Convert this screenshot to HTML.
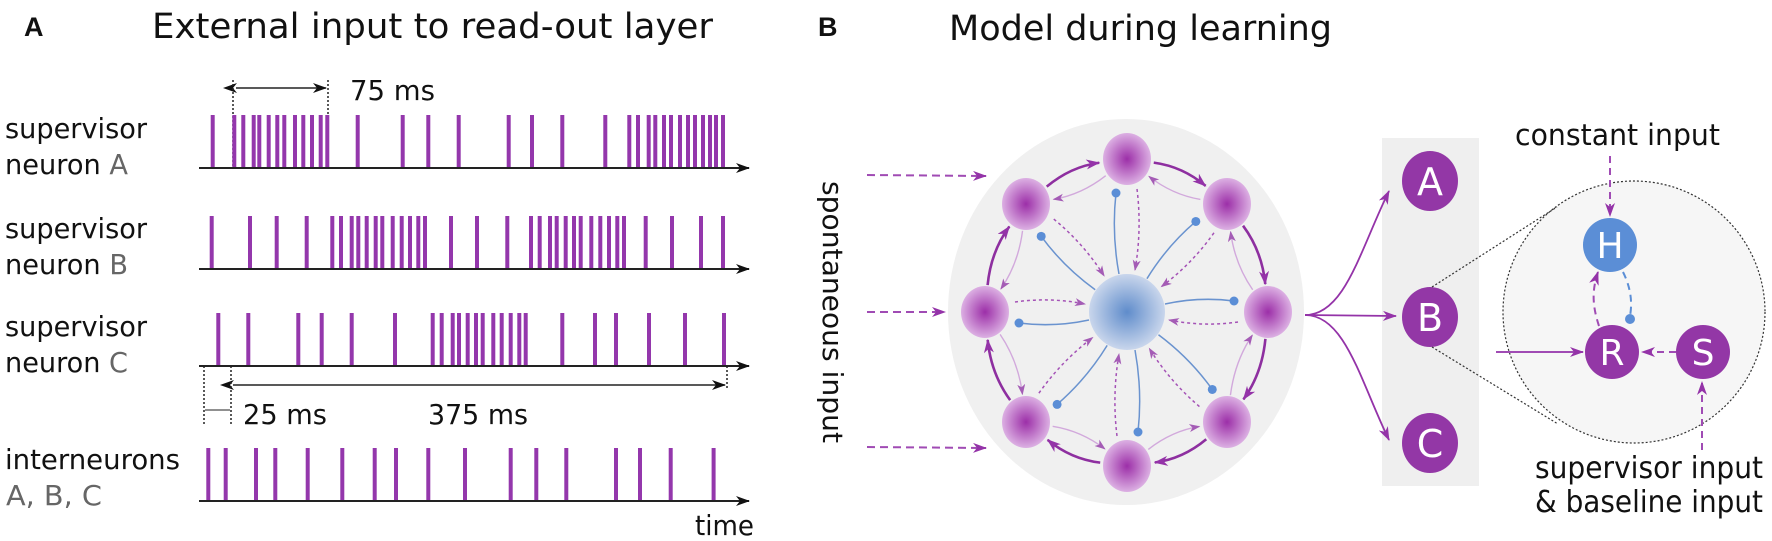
<!DOCTYPE html>
<html><head><meta charset="utf-8"><style>
html,body{margin:0;padding:0;background:#fff;}
svg{display:block;}
text{font-family:"DejaVu Sans","Liberation Sans",sans-serif;}
</style></head><body>
<svg id="s" width="1772" height="541" viewBox="0 0 1772 541" xmlns="http://www.w3.org/2000/svg" fill="#111">
<defs>
<marker id="ak" markerWidth="14" markerHeight="10" refX="13" refY="5" orient="auto" markerUnits="userSpaceOnUse"><path d="M0,0 L14,5 L0,10 L4,5 z" fill="#111"/></marker>
<marker id="aks" markerWidth="14" markerHeight="10" refX="1" refY="5" orient="auto-start-reverse" markerUnits="userSpaceOnUse"><path d="M0,0 L14,5 L0,10 L4,5 z" fill="#111"/></marker>
<marker id="ap" markerWidth="14" markerHeight="10" refX="13" refY="5" orient="auto" markerUnits="userSpaceOnUse"><path d="M0,0 L14,5 L0,10 L4,5 z" fill="#9433a8"/></marker>
<marker id="apl" markerWidth="11" markerHeight="8" refX="10" refY="4" orient="auto" markerUnits="userSpaceOnUse"><path d="M0,0 L11,4 L0,8 L3,4 z" fill="#a45cb5"/></marker>
<radialGradient id="gp"><stop offset="0" stop-color="#9c2fa8"/><stop offset="1" stop-color="#dcb0e3"/></radialGradient>
<radialGradient id="gb"><stop offset="0" stop-color="#5f8ccb"/><stop offset="1" stop-color="#c9d6ec"/></radialGradient>
</defs>

<!-- Panel A -->
<text x="24" y="36" font-size="27" font-weight="bold" style="font-family:'Liberation Sans',sans-serif">A</text>
<text x="152" y="38" font-size="35" textLength="561" lengthAdjust="spacingAndGlyphs">External input to read-out layer</text>

<g font-size="28">
<text x="5" y="138" textLength="142" lengthAdjust="spacingAndGlyphs">supervisor</text><text x="5" y="174" textLength="123" lengthAdjust="spacingAndGlyphs">neuron <tspan style="fill:#666">A</tspan></text>
<text x="5" y="238" textLength="142" lengthAdjust="spacingAndGlyphs">supervisor</text><text x="5" y="274" textLength="123" lengthAdjust="spacingAndGlyphs">neuron <tspan style="fill:#666">B</tspan></text>
<text x="5" y="336" textLength="142" lengthAdjust="spacingAndGlyphs">supervisor</text><text x="5" y="372" textLength="123" lengthAdjust="spacingAndGlyphs">neuron <tspan style="fill:#666">C</tspan></text>
<text x="5" y="469" textLength="175" lengthAdjust="spacingAndGlyphs">interneurons</text><text x="6" y="505" style="fill:#666" textLength="96" lengthAdjust="spacingAndGlyphs">A, B, C</text>
<text x="695" y="535" textLength="59" lengthAdjust="spacingAndGlyphs">time</text>
<text x="350" y="100" textLength="85" lengthAdjust="spacingAndGlyphs">75 ms</text>
<text x="243" y="424" textLength="84" lengthAdjust="spacingAndGlyphs">25 ms</text>
<text x="428" y="424" textLength="100" lengthAdjust="spacingAndGlyphs">375 ms</text>
</g>

<g stroke="#222" stroke-width="2" fill="none">
<line x1="199" y1="168" x2="749" y2="168" marker-end="url(#ak)"/>
<line x1="199" y1="269" x2="749" y2="269" marker-end="url(#ak)"/>
<line x1="199" y1="366" x2="749" y2="366" marker-end="url(#ak)"/>
<line x1="199" y1="501" x2="749" y2="501" marker-end="url(#ak)"/>
<line x1="236" y1="88" x2="326" y2="88" stroke-width="1.5" marker-start="url(#aks)" marker-end="url(#ak)"/>
<line x1="233" y1="385" x2="725" y2="385" stroke-width="1.5" marker-start="url(#aks)" marker-end="url(#ak)"/>
<line x1="205" y1="410" x2="230" y2="410" stroke-width="1"/>
</g>
<g stroke="#222" stroke-width="1.5" stroke-dasharray="2,2">
<line x1="233" y1="80" x2="233" y2="168"/><line x1="328" y1="80" x2="328" y2="168"/>
<line x1="204" y1="366" x2="204" y2="424"/><line x1="231" y1="366" x2="231" y2="424"/>
<line x1="727" y1="366" x2="727" y2="390"/>
</g>
<g id="spikes" stroke="#9437ac" stroke-width="4"></g>

<!-- Panel B -->
<text x="818" y="36" font-size="27" font-weight="bold" style="font-family:'Liberation Sans',sans-serif">B</text>
<text x="949" y="40" font-size="35" textLength="383" lengthAdjust="spacingAndGlyphs">Model during learning</text>
<text x="0" y="0" font-size="28" transform="translate(823,181) rotate(90)" textLength="262" lengthAdjust="spacingAndGlyphs">spontaneous input</text>

<g stroke="#a04bb4" stroke-width="2" stroke-dasharray="8,5" fill="none">
<line x1="867" y1="175" x2="986" y2="176" marker-end="url(#ap)"/>
<line x1="867" y1="312" x2="945" y2="312" marker-end="url(#ap)"/>
<line x1="867" y1="447" x2="986" y2="448" marker-end="url(#ap)"/>
</g>
<ellipse cx="1126" cy="312" rx="178" ry="193" fill="#f0f0f0"/>
<g id="net"></g>

<rect x="1382" y="138" width="97" height="348" fill="#efefef"/>
<g stroke="#9433a8" stroke-width="1.8" fill="none">
<path d="M1305,315 C1345,315 1360,250 1389,191" marker-end="url(#ap)"/>
<line x1="1305" y1="315" x2="1396" y2="316" marker-end="url(#ap)"/>
<path d="M1305,315 C1345,315 1360,380 1389,440" marker-end="url(#ap)"/>
</g>
<g fill="#9337a6">
<ellipse cx="1430" cy="181" rx="28" ry="30"/><ellipse cx="1430" cy="317" rx="28" ry="30"/><ellipse cx="1430" cy="443" rx="28" ry="30"/>
</g>
<g font-size="38" text-anchor="middle" style="fill:#fff">
<text x="1430" y="195" style="fill:#fff">A</text><text x="1430" y="331" style="fill:#fff">B</text><text x="1430" y="457" style="fill:#fff">C</text>
</g>

<circle cx="1634" cy="312" r="131" fill="#f6f6f6" stroke="#333" stroke-width="1.2" stroke-dasharray="2,2"/>
<g stroke="#333" stroke-width="1.2" stroke-dasharray="2,2">
<line x1="1432" y1="287" x2="1557" y2="207"/><line x1="1432" y1="347" x2="1558" y2="424"/>
</g>
<text x="1515" y="145" font-size="29" textLength="205" lengthAdjust="spacingAndGlyphs">constant input</text>
<text x="1535" y="478" font-size="30" textLength="228" lengthAdjust="spacingAndGlyphs">supervisor input</text>
<text x="1535" y="512" font-size="30" textLength="228" lengthAdjust="spacingAndGlyphs">&amp; baseline input</text>
<g stroke="#a04bb4" stroke-width="2" fill="none">
<line x1="1610" y1="156" x2="1610" y2="216" stroke-dasharray="7,5" marker-end="url(#ap)"/>
<line x1="1496" y1="352" x2="1583" y2="352" marker-end="url(#ap)"/>
<line x1="1676" y1="352" x2="1642" y2="352" stroke-dasharray="7,5" marker-end="url(#ap)"/>
<line x1="1702" y1="450" x2="1702" y2="382" stroke-dasharray="7,5" marker-end="url(#ap)"/>
<path d="M1599,326 C1592,305 1592,290 1598,272" stroke-dasharray="7,5" marker-end="url(#ap)"/>
<path d="M1623,272 C1632,290 1632,305 1630,316" stroke="#5b8ed6" stroke-dasharray="7,5"/>
</g>
<circle cx="1630" cy="319" r="5" fill="#5b8ed6"/>
<circle cx="1610" cy="245" r="27" fill="#5b8ed6"/>
<circle cx="1612" cy="352" r="27" fill="#9337a6"/>
<circle cx="1703" cy="352" r="27" fill="#9337a6"/>
<g font-size="36" text-anchor="middle">
<text x="1610" y="258" style="fill:#fff">H</text><text x="1612" y="365" style="fill:#fff">R</text><text x="1703" y="365" style="fill:#fff">S</text>
</g>
</svg>
<script>
(function(){
var NS="http://www.w3.org/2000/svg";
function el(p,t,a){var e=document.createElementNS(NS,t);for(var k in a)e.setAttribute(k,a[k]);p.appendChild(e);return e;}
var sp=document.getElementById('spikes');
var rows=[[168,[212.7,234.3,243.3,253.7,259.3,268.7,277.3,284.3,295,303.3,312,320.7,327.3,357.7,402.7,428.3,458.7,508.7,532,562.3,605.3,629.3,638,648.7,655.3,664,671,680,688,695,703,710,716,723]],
[269,[211.7,250,276.7,306.7,332.3,341,351.7,358.3,366.7,375.7,382.3,392.7,401.7,410,418.3,425,451,477,507.3,531,539.7,550,556.7,565.7,574,580.7,591.3,600.3,609,617.3,624,645.7,672,701,723]],
[366,[218.3,248.3,298.3,321.7,351.7,395,432.7,441.7,452.7,459,467.7,476,482.7,493.3,501.7,510.7,519.3,525.7,562.3,595,616,649,685,724]],
[501,[208.3,225.7,256,275.3,307.7,342.3,374.7,396,428.3,465,510.7,536.3,566.3,616,640,670.7,713.6]]];
rows.forEach(function(r){r[1].forEach(function(x){el(sp,'line',{x1:x,x2:x,y1:r[0]-53,y2:r[0]-1});});});
var g=document.getElementById('net');
var C=[1127,312];
var N=[[1127,159],[1227,204],[1268,312],[1227,422],[1127,466],[1026,422],[985,312],[1026,204]];
function nrm(x,y){var l=Math.hypot(x,y);return [x/l,y/l];}
for(var i=0;i<8;i++){
 var a=N[i],b=N[(i+1)%8];
 var m=[(a[0]+b[0])/2,(a[1]+b[1])/2];
 var o=nrm(m[0]-C[0],m[1]-C[1]);
 var c1=[m[0]+o[0]*16,m[1]+o[1]*16];
 var d1=nrm(c1[0]-a[0],c1[1]-a[1]),d2=nrm(c1[0]-b[0],c1[1]-b[1]);
 el(g,'path',{d:'M'+(a[0]+d1[0]*27)+','+(a[1]+d1[1]*27)+' Q'+c1[0]+','+c1[1]+' '+(b[0]+d2[0]*28)+','+(b[1]+d2[1]*28),stroke:'#8e2fa0','stroke-width':2.6,fill:'none','marker-end':'url(#ap)'});
 var c2=[m[0]-o[0]*14,m[1]-o[1]*14];
 var e1=nrm(c2[0]-a[0],c2[1]-a[1]),e2=nrm(c2[0]-b[0],c2[1]-b[1]);
 el(g,'path',{d:'M'+(b[0]+e2[0]*27)+','+(b[1]+e2[1]*27)+' Q'+c2[0]+','+c2[1]+' '+(a[0]+e1[0]*28)+','+(a[1]+e1[1]*28),stroke:'#d2a9dc','stroke-width':1.4,fill:'none','marker-end':'url(#apl)'});
}
N.forEach(function(p){
 var u=nrm(p[0]-C[0],p[1]-C[1]),v=[-u[1],u[0]];
 var s=[C[0]+u[0]*38-v[0]*8,C[1]+u[1]*38-v[1]*8], e=[p[0]-u[0]*34-v[0]*11,p[1]-u[1]*34-v[1]*11];
 var mc=[(s[0]+e[0])/2-v[0]*6,(s[1]+e[1])/2-v[1]*6];
 el(g,'path',{d:'M'+s[0]+','+s[1]+' Q'+mc[0]+','+mc[1]+' '+e[0]+','+e[1],stroke:'#6a93cf','stroke-width':1.5,fill:'none'});
 el(g,'circle',{cx:e[0],cy:e[1],r:4.5,fill:'#5b8ed6'});
 var s2=[p[0]-u[0]*30+v[0]*10,p[1]-u[1]*30+v[1]*10], e2=[C[0]+u[0]*42+v[0]*8,C[1]+u[1]*42+v[1]*8];
 var mc2=[(s2[0]+e2[0])/2+v[0]*6,(s2[1]+e2[1])/2+v[1]*6];
 el(g,'path',{d:'M'+s2[0]+','+s2[1]+' Q'+mc2[0]+','+mc2[1]+' '+e2[0]+','+e2[1],stroke:'#a452b6','stroke-width':1.5,'stroke-dasharray':'3,3',fill:'none','marker-end':'url(#apl)'});
});
el(g,'circle',{cx:C[0],cy:C[1],r:38,fill:'url(#gb)'});
N.forEach(function(p){el(g,'ellipse',{cx:p[0],cy:p[1],rx:24,ry:26,fill:'url(#gp)'});});
})();
</script>
</body></html>
